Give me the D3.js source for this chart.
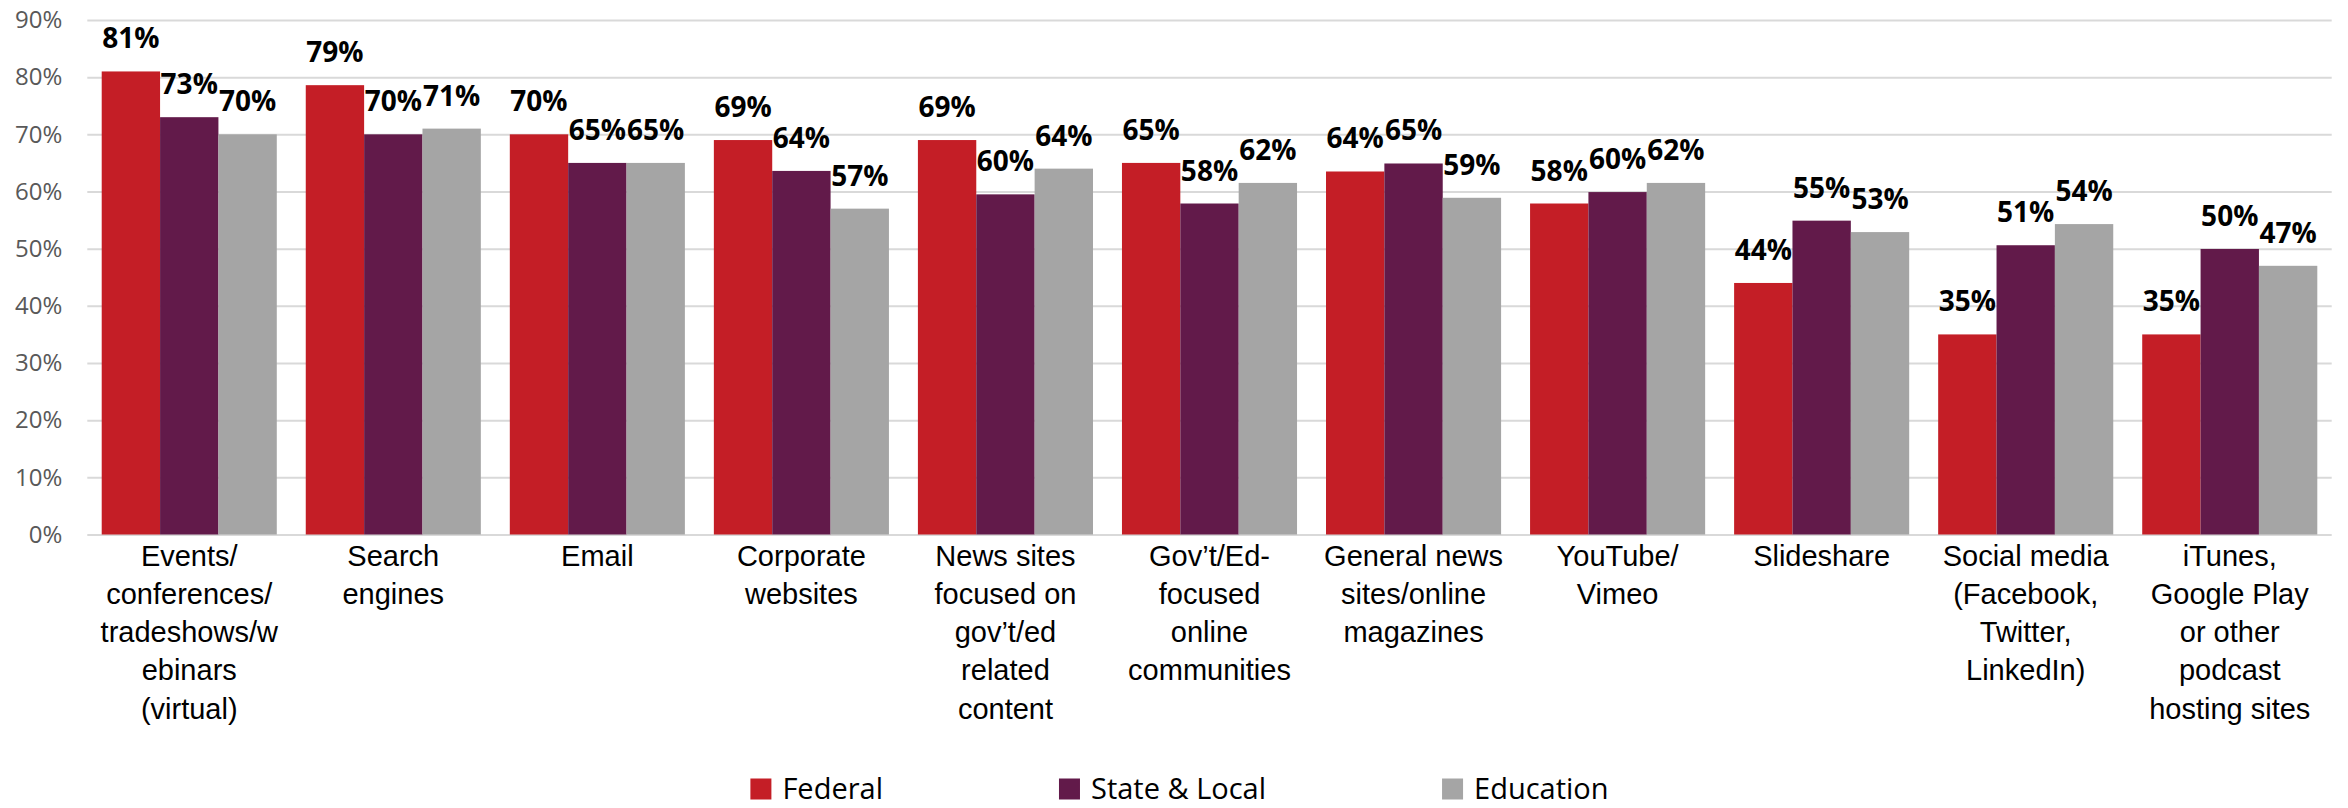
<!DOCTYPE html>
<html>
<head>
<meta charset="utf-8">
<script src="https://cdn.jsdelivr.net/npm/d3@7"></script>
<style>
  html, body { margin: 0; padding: 0; background: #ffffff; }
  svg { display: block; }
</style>
</head>
<body>
<svg id="chart" width="2348" height="808"></svg>
<script>
// Channels used to find information, by sector
const categories = [
  "Events/conferences/tradeshows/webinars (virtual)",
  "Search engines",
  "Email",
  "Corporate websites",
  "News sites focused on gov’t/ed related content",
  "Gov’t/Ed-focused online communities",
  "General news sites/online magazines",
  "YouTube/Vimeo",
  "Slideshare",
  "Social media (Facebook, Twitter, LinkedIn)",
  "iTunes, Google Play or other podcast hosting sites"
];

// Wrapped category tick labels, one entry per line
const categoryLines = [
  ["Events/", "conferences/", "tradeshows/w", "ebinars", "(virtual)"],
  ["Search", "engines"],
  ["Email"],
  ["Corporate", "websites"],
  ["News sites", "focused on", "gov’t/ed", "related", "content"],
  ["Gov’t/Ed-", "focused", "online", "communities"],
  ["General news", "sites/online", "magazines"],
  ["YouTube/", "Vimeo"],
  ["Slideshare"],
  ["Social media", "(Facebook,", "Twitter,", "LinkedIn)"],
  ["iTunes,", "Google Play", "or other", "podcast", "hosting sites"]
];

const seriesNames = ["Federal", "State & Local", "Education"];
const seriesColors = ["#c41e26", "#621a4a", "#a5a5a5"];

// Share of respondents (%)
const federal    = [81, 78.6, 70, 69, 69, 65, 63.5, 57.9, 44, 35, 35];
const stateLocal = [73, 70, 65, 63.6, 59.5, 57.9, 64.9, 59.9, 54.9, 50.6, 49.95];
const education  = [70, 71, 65, 57, 64, 61.5, 58.9, 61.5, 52.9, 54.3, 47];

const yTicks = [0, 10, 20, 30, 40, 50, 60, 70, 80, 90];

const series = [federal, stateLocal, education];

const svg = d3.select("#chart");

const plotLeft = 87.3, plotRight = 2331.7, plotTop = 20, plotBottom = 534.5;

const x = d3.scaleBand()
  .domain(categories)
  .range([plotLeft, plotRight])
  .paddingInner(0.142)
  .paddingOuter(0.0706);

const xSub = d3.scaleBand()
  .domain(seriesNames)
  .range([0, x.bandwidth()]);

const y = d3.scaleLinear()
  .domain([0, 90])
  .range([plotBottom, plotTop]);

const pct = v => d3.format(".0f")(v) + "%";

// Gridlines + y tick labels
const yAxis = d3.axisLeft(y)
  .tickValues(yTicks)
  .tickFormat(d => d + "%")
  .tickSize(-(plotRight - plotLeft))
  .tickPadding(25);

const gy = svg.append("g")
  .attr("transform", `translate(${plotLeft},0)`)
  .call(yAxis);
gy.select(".domain").remove();
gy.selectAll(".tick line")
  .attr("stroke", "#d9d9d9")
  .attr("stroke-width", 2);
gy.selectAll(".tick text")
  .attr("fill", "#595959")
  .style("font-family", "'Open Sans', sans-serif")
  .style("font-size", "24px");

// Bars
const groups = svg.append("g")
  .selectAll("g")
  .data(categories)
  .join("g")
  .attr("transform", d => `translate(${x(d)},0)`);

groups.each(function(cat, i) {
  const g = d3.select(this);
  const rows = seriesNames.map((name, s) => ({ name, value: series[s][i], color: seriesColors[s] }));

  g.selectAll("rect")
    .data(rows)
    .join("rect")
    .attr("x", d => xSub(d.name))
    .attr("y", d => y(d.value))
    .attr("width", xSub.bandwidth())
    .attr("height", d => y(0) - y(d.value))
    .attr("fill", d => d.color);

  g.selectAll("text.value")
    .data(rows)
    .join("text")
    .attr("class", "value")
    .attr("x", d => xSub(d.name) + xSub.bandwidth() / 2)
    .attr("y", d => y(d.value) - 23)
    .attr("text-anchor", "middle")
    .style("font-family", "'Open Sans', sans-serif")
    .style("font-weight", "700")
    .style("font-size", "28px")
    .attr("fill", "#000000")
    .text(d => pct(d.value));
});

// Category labels (wrapped)
const catLabels = svg.append("g")
  .selectAll("text")
  .data(categories)
  .join("text")
  .attr("x", d => x(d) + x.bandwidth() / 2)
  .attr("y", plotBottom + 31)
  .attr("text-anchor", "middle")
  .style("font-family", "'Liberation Sans', Arial, sans-serif")
  .style("font-size", "29px")
  .attr("fill", "#000000");

catLabels.each(function(d, i) {
  const t = d3.select(this);
  categoryLines[i].forEach((line, k) => {
    t.append("tspan")
      .attr("x", x(d) + x.bandwidth() / 2)
      .attr("dy", k === 0 ? 0 : 38.3)
      .text(line);
  });
});

// Legend
const legend = svg.append("g");
const items = legend.selectAll("g")
  .data(seriesNames)
  .join("g");

items.append("rect")
  .attr("width", 21)
  .attr("height", 21)
  .attr("y", 778.5)
  .attr("fill", (d, i) => seriesColors[i]);

items.append("text")
  .attr("x", 32)
  .attr("y", 799)
  .style("font-family", "'Open Sans', sans-serif")
  .style("font-size", "29px")
  .attr("fill", "#000000")
  .text(d => d);

const legendGap = 176;
const widths = [];
items.each(function() { widths.push(this.getBBox().width); });
const total = d3.sum(widths) + legendGap * (widths.length - 1);
let cursor = 1179.5 - total / 2;
items.attr("transform", (d, i) => {
  const tx = cursor;
  cursor += widths[i] + legendGap;
  return `translate(${tx},0)`;
});
</script>
</body>
</html>
